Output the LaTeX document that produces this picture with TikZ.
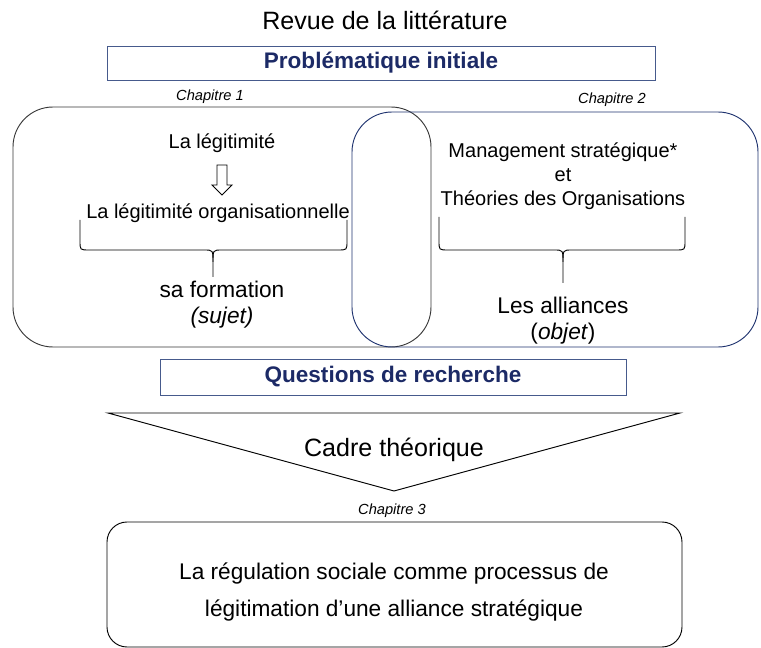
\documentclass[tikz,border=0pt]{standalone}
\usepackage{fontspec}
\setmainfont{Liberation Sans}
\usetikzlibrary{positioning}
\definecolor{navy}{RGB}{28,42,102}
\definecolor{boxline}{RGB}{70,90,140}
\definecolor{blueline}{RGB}{30,50,110}
\definecolor{greyline}{RGB}{55,55,55}

\begin{document}
\begin{tikzpicture}[x=0.75pt, y=-0.75pt, line width=0.7pt,
  headbox/.style = {draw=boxline, inner sep=0pt, text=navy, font=\fontsize{16.9}{20}\selectfont\bfseries},
  chap/.style = {font=\fontsize{11}{13}\selectfont\itshape},
  txt/.style = {align=center, font=\fontsize{15}{18}\selectfont},
  big/.style = {align=center, font=\fontsize{17}{19.5}\selectfont},
  zone/.style = {draw, inner sep=0pt, rounded corners=30pt}]
\useasboundingbox (0,0) rectangle (761,648);

\node[font=\fontsize{18.8}{22}\selectfont] (revue) at (385,20) {Revue de la littérature};
\node[headbox, minimum width=411pt, minimum height=25.5pt] (pb) at (381,63) {Problématique initiale};

% chapitres 1 et 2
\node[zone, draw=greyline, minimum width=313.5pt, minimum height=180pt] (ch1) at (222,227) {};
\node[zone, draw=blueline, minimum width=304.5pt, minimum height=176.25pt] (ch2) at (555,229.5) {};
\node[chap] (c1) at (210,97) {Chapitre 1};
\node[chap] (c2) at (612,100) {Chapitre 2};

\node[txt] (leg) at (222,143) {La légitimité};
\node[txt] (legorg) at (218,213) {La légitimité organisationnelle};
\draw (217,165) -- (227,165) -- (227,185) -- (232,185) -- (222,195) -- (212,185) -- (217,185) -- cycle;
\draw (80,220) -- (80,241) .. controls (80,250) .. (89,250) -- (204,250) .. controls (213,250) .. (213,262) -- (213,277);
\draw (347,220) -- (347,241) .. controls (347,250) .. (338,250) -- (222,250) .. controls (213,250) .. (213,262);
\node[big] (form) at (222,305) {sa formation\\\textit{(sujet)}};

\node[txt] (mgmt) at (563,176) {Management stratégique*\\et\\Théories des Organisations};
\draw (439,217) -- (439,241) .. controls (439,250) .. (448,250) -- (554,250) .. controls (563,250) .. (563,262) -- (563,283);
\draw (685,217) -- (685,241) .. controls (685,250) .. (676,250) -- (572,250) .. controls (563,250) .. (563,262);
\node[big] (alli) at (563,321) {Les alliances\\(\textit{objet})};

% questions et cadre
\node[headbox, minimum width=349.5pt, minimum height=27pt] (qr) at (393,377) {Questions de recherche};
\coordinate (tl) at (108,413);
\coordinate (tr) at (680,413);
\coordinate (tb) at (394,491);
\draw (tl) -- (tr) -- (tb) -- cycle;
\node[font=\fontsize{18.8}{22}\selectfont] (cadre) at (394,450) {Cadre théorique};

% chapitre 3
\node[chap] (c3) at (392,511) {Chapitre 3};
\node[zone, rounded corners=15pt, minimum width=431.25pt, minimum height=93.75pt] (ch3) at (394.5,584.5) {};
\node[big, font=\fontsize{17}{28}\selectfont] (regul) at (394,592) {La régulation sociale comme processus de\\légitimation d’une alliance stratégique};
\end{tikzpicture}
\end{document}
